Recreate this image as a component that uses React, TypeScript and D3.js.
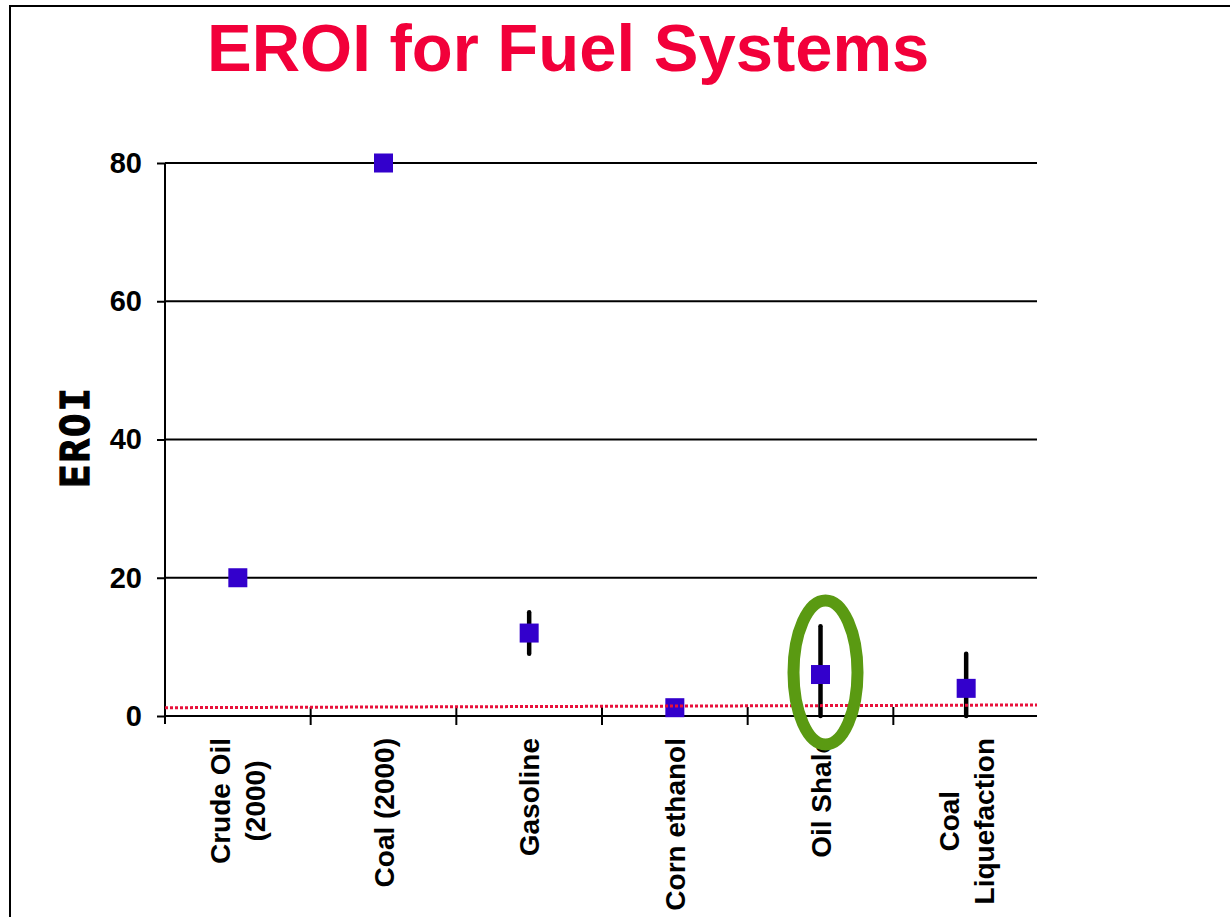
import React, { useEffect, useRef } from "react";
import * as d3 from "d3";

// values
const categories = ["Crude Oil (2000)", "Coal (2000)", "Gasoline", "Corn ethanol", "Oil Shale", "Coal Liquefaction"];
const categoryLines = [["Crude Oil", "(2000)"], ["Coal (2000)"], ["Gasoline"], ["Corn ethanol"], ["Oil Shale"], ["Coal", "Liquefaction"]];
const eroi = [20, 80, 12, 1.2, 6, 4];
const eroiLow = [null, null, 9, null, 0, 0];
const eroiHigh = [null, null, 15, null, 13, 9];
const yTicks = [0, 20, 40, 60, 80];
const breakEven = [1.2, 1.6]; // dotted red line, value at left and right end
const highlighted = "Oil Shale";

const W = 1230, H = 917;
const plot = { left: 165, right: 1039, top: 163, bottom: 716 };
const labelFont = "'Liberation Sans', Arial, sans-serif";

const App = () => {
    const svgRef = useRef<SVGSVGElement>(null);

    useEffect(() => {
        const svg = d3.select(svgRef.current);
        svg.selectAll("*").remove();

        const x = d3.scaleBand<string>()
            .domain(categories)
            .range([plot.left, plot.right]);

        const y = d3.scaleLinear()
            .domain([0, 80])
            .range([plot.bottom, plot.top]);

        const cx = (c: string) => (x(c) ?? 0) + x.bandwidth() / 2;

        // slide frame (left + top)
        svg.append("path")
            .attr("d", `M10,${H} L10,6 L${W},6`)
            .attr("fill", "none")
            .attr("stroke", "black")
            .attr("stroke-width", 2);

        // title
        svg.append("text")
            .attr("x", 207)
            .attr("y", 71)
            .attr("font-family", labelFont)
            .attr("font-weight", "bold")
            .attr("font-size", 67)
            .attr("fill", "#F2003A")
            .text("EROI for Fuel Systems");

        // gridlines
        svg.append("g")
            .selectAll("line")
            .data(yTicks.filter(t => t > 0))
            .join("line")
            .attr("x1", plot.left)
            .attr("x2", plot.right - 2)
            .attr("y1", d => y(d))
            .attr("y2", d => y(d))
            .attr("stroke", "black")
            .attr("stroke-width", 2);

        // y axis
        const yAxis = svg.append("g")
            .attr("transform", `translate(${plot.left},0)`)
            .call(d3.axisLeft(y).tickValues(yTicks).tickSize(8).tickPadding(15));
        yAxis.select(".domain")
            .attr("d", `M0,${plot.top} V${plot.bottom + 8}`)
            .attr("stroke-width", 2);
        yAxis.selectAll(".tick line").attr("stroke-width", 2);
        yAxis.selectAll(".tick text")
            .attr("font-family", labelFont)
            .attr("font-weight", "bold")
            .attr("font-size", 29)
            .attr("fill", "black");

        // x axis line + boundary ticks
        svg.append("line")
            .attr("x1", plot.left)
            .attr("x2", plot.right - 2)
            .attr("y1", plot.bottom)
            .attr("y2", plot.bottom)
            .attr("stroke", "black")
            .attr("stroke-width", 2);

        svg.append("g")
            .selectAll("line")
            .data(categories.slice(1))
            .join("line")
            .attr("x1", d => x(d) ?? 0)
            .attr("x2", d => x(d) ?? 0)
            .attr("y1", plot.bottom - 9)
            .attr("y2", plot.bottom + 9)
            .attr("stroke", "black")
            .attr("stroke-width", 2);

        // y axis title
        svg.append("text")
            .attr("transform", `translate(89,437) rotate(-90)`)
            .attr("text-anchor", "middle")
            .attr("font-family", "'DejaVu Sans Mono', monospace")
            .attr("font-weight", "bold")
            .attr("font-size", 39)
            .attr("letter-spacing", 2)
            .attr("stroke", "black")
            .attr("stroke-width", 1.2)
            .text("EROI");

        // category labels, rotated, block starts just under the axis
        const lineH = 35;
        categories.forEach((c, i) => {
            const lines = categoryLines[i];
            const g = svg.append("g")
                .attr("transform", `translate(${cx(c)},738) rotate(-90)`);
            const texts = g.selectAll("text")
                .data(lines)
                .join("text")
                .attr("font-family", labelFont)
                .attr("font-weight", "bold")
                .attr("font-size", 28)
                .attr("text-anchor", "middle")
                .attr("y", (_, j) => (j - (lines.length - 1) / 2) * lineH + 10)
                .text(d => d);
            let maxW = 0;
            texts.each(function () {
                maxW = Math.max(maxW, (this as SVGTextElement).getComputedTextLength());
            });
            texts.attr("x", -maxW / 2);
        });

        // error bars
        svg.append("g")
            .selectAll("line")
            .data(categories.filter((_, i) => eroiLow[i] !== null))
            .join("line")
            .attr("x1", d => cx(d))
            .attr("x2", d => cx(d))
            .attr("y1", d => y(eroiHigh[categories.indexOf(d)] as number))
            .attr("y2", d => y(eroiLow[categories.indexOf(d)] as number))
            .attr("stroke", "black")
            .attr("stroke-width", 4.5)
            .attr("stroke-linecap", "round");

        // markers
        const sz = 19;
        svg.append("g")
            .selectAll("rect")
            .data(categories)
            .join("rect")
            .attr("x", d => cx(d) - sz / 2)
            .attr("y", (_, i) => y(eroi[i]) - sz / 2)
            .attr("width", sz)
            .attr("height", sz)
            .attr("fill", "#3300CC");

        // break-even dotted line
        svg.append("line")
            .attr("x1", plot.left)
            .attr("x2", plot.right - 2)
            .attr("y1", y(breakEven[0]))
            .attr("y2", y(breakEven[1]))
            .attr("stroke", "#E8103A")
            .attr("stroke-width", 3)
            .attr("stroke-dasharray", "3,2");

        // highlight ellipse
        svg.append("ellipse")
            .attr("cx", cx(highlighted) + 5)
            .attr("cy", y(6.3))
            .attr("rx", 32)
            .attr("ry", 72)
            .attr("fill", "none")
            .attr("stroke", "#5A9A12")
            .attr("stroke-width", 12);
    }, []);

    return (
        <svg ref={svgRef} width={W} height={H}
            style={{ position: "absolute", left: 0, top: 0, background: "white" }}></svg>
    );
};

export default App;
